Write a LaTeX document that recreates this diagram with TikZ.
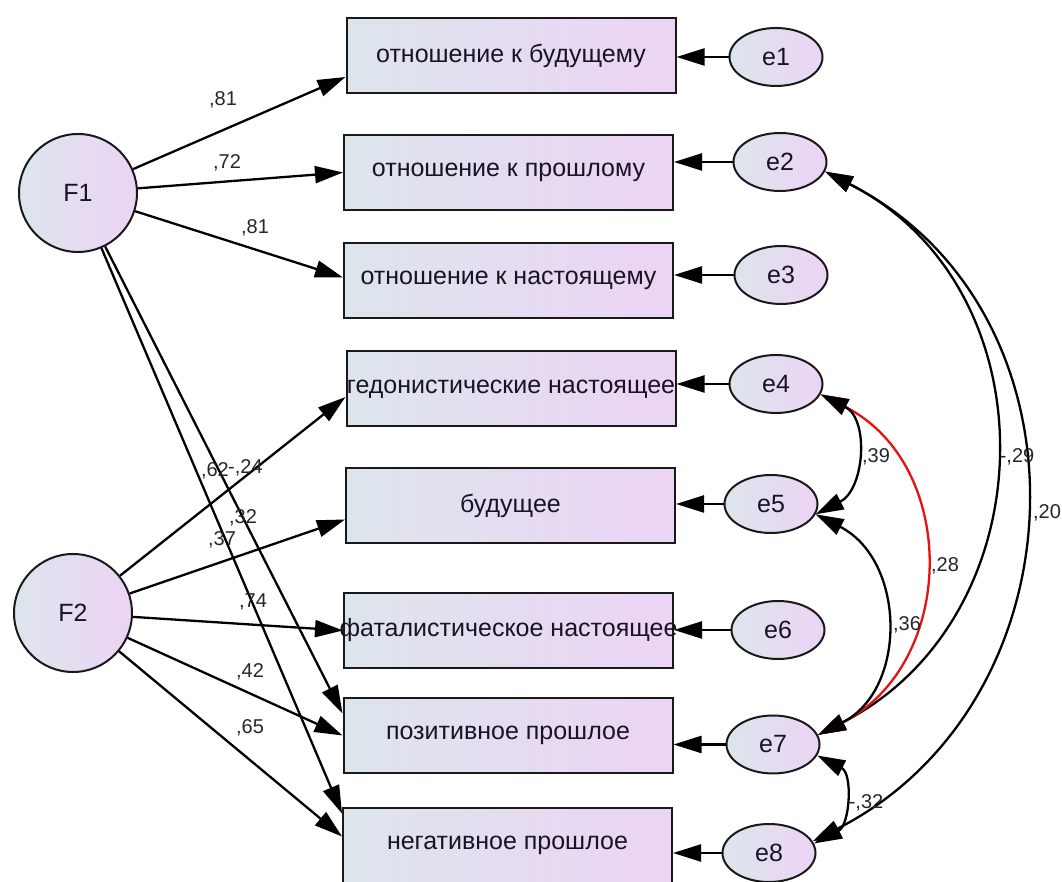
\documentclass[tikz,border=0pt]{standalone}
\usepackage{fontspec}
\setmainfont{Liberation Sans}
\usetikzlibrary{arrows.meta,shapes.geometric}
\definecolor{gL}{RGB}{221,229,236}
\definecolor{gR}{RGB}{236,212,245}
\definecolor{txt}{RGB}{25,20,35}
\definecolor{covred}{RGB}{228,18,18}
\tikzset{
  obsbox/.style={draw=black!90,line width=2pt,left color=gL,right color=gR,
    minimum width=329pt,minimum height=75pt,inner sep=0pt,text=txt,
    font=\fontsize{25}{28}\selectfont},
  latent/.style={circle,draw=black!90,line width=2pt,left color=gL,right color=gR,
    minimum size=118pt,inner sep=0pt,text=txt,font=\fontsize{25}{28}\selectfont},
  errnode/.style={ellipse,draw=black!90,line width=2pt,left color=gL,right color=gR,
    minimum width=93pt,minimum height=58pt,inner sep=0pt,text=txt,font=\fontsize{25}{28}\selectfont},
  loadarrow/.style={line width=2.3pt,-{Triangle[length=28pt,width=17pt]}},
  cov/.style={line width=2.3pt,{Triangle[length=28pt,width=17pt]}-{Triangle[length=28pt,width=17pt]},
    out=-27,in=27,looseness=1.17},
  coef/.style={font=\fontsize{20}{22}\selectfont,text=black!85,inner sep=0pt}
}
\begin{document}
\begin{tikzpicture}[x=1pt,y=1pt]
\useasboundingbox (0,0) rectangle (1062,882);
% observed boxes
\node[obsbox] (b1) at (511,826.5) {\makebox[0pt][c]{отношение к будущему}};
\node[obsbox] (b2) at (508.5,709.5) {\makebox[0pt][c]{отношение к прошлому}};
\node[obsbox] (b3) at (508.5,601.5) {\makebox[0pt][c]{отношение к настоящему}};
\node[obsbox] (b4) at (511,493) {\makebox[0pt][c]{гедонистические настоящее}};
\node[obsbox] (b5) at (510.5,376.5) {\makebox[0pt][c]{будущее}};
\node[obsbox] (b6) at (508.5,251.5) {\makebox[0pt][c]{фаталистическое настоящее}};
\node[obsbox] (b7) at (508,146.5) {\makebox[0pt][c]{позитивное прошлое}};
\node[obsbox] (b8) at (507.5,36.5) {\makebox[0pt][c]{негативное прошлое}};
% latent
\node[latent] (F1) at (78,689) {F1};
\node[latent] (F2) at (73,269) {F2};
% errors
\node[errnode] (e1) at (776,825) {e1};
\node[errnode] (e2) at (780,720) {e2};
\node[errnode] (e3) at (781,607) {e3};
\node[errnode] (e4) at (776,498) {e4};
\node[errnode] (e5) at (771,378) {e5};
\node[errnode] (e6) at (778,252) {e6};
\node[errnode] (e7) at (773,137.5) {e7};
\node[errnode] (e8) at (769,29) {e8};
% error arrows
\foreach \i in {1,...,8}{
  \draw[loadarrow] (e\i) -- (e\i -| b\i.east);
}
% F1 loadings
\draw[loadarrow] (F1) -- ([yshift=-21.5pt]b1.west);
\draw[loadarrow] (F1) -- (b2.west);
\draw[loadarrow] (F1) -- ([yshift=3pt]b3.west);
\draw[loadarrow] (F1) -- ([yshift=22pt]b7.west);
\draw[loadarrow] (F1) -- ([yshift=32pt]b8.west);
% F2 loadings
\draw[loadarrow] (F2) -- ([yshift=-8pt]b4.west);
\draw[loadarrow] (F2) -- ([yshift=-14pt]b5.west);
\draw[loadarrow] (F2) -- (b6.west);
\draw[loadarrow] (F2) -- (b7.west);
\draw[loadarrow] (F2) -- ([yshift=9pt]b8.west);
% covariances
\draw[cov] (e2.-12) to (e7.12);
\draw[cov] (e2.-12) to (e8.15);
\draw[cov,draw=covred] (e4.-13) to (e7.12);
\draw[cov] (e4.-13) to (e5.-13);
\draw[cov] (e5.-13) to (e7.12);
\draw[cov] (e7.-14) to (e8.12);
% coefficient labels
\node[coef] (l1) at (223,782) {,81};
\node[coef] (l2) at (227,719) {,72};
\node[coef] (l3) at (255,654) {,81};
\node[coef,anchor=east] (l4) at (229,411) {,62};
\node[coef,anchor=west] (l5) at (228,414) {-,24};
\node[coef] (l6) at (243,364) {,32};
\node[coef] (l7) at (222,342) {,37};
\node[coef] (l8) at (253,280) {,74};
\node[coef] (l9) at (250,210) {,42};
\node[coef] (l10) at (250,154) {,65};
\node[coef] (l11) at (876,425) {,39};
\node[coef] (l12) at (1017,425) {-,29};
\node[coef] (l13) at (1047,369) {,20};
\node[coef] (l14) at (945,316) {,28};
\node[coef] (l15) at (907,257) {,36};
\node[coef] (l16) at (866,79) {-,32};
\end{tikzpicture}
\end{document}
